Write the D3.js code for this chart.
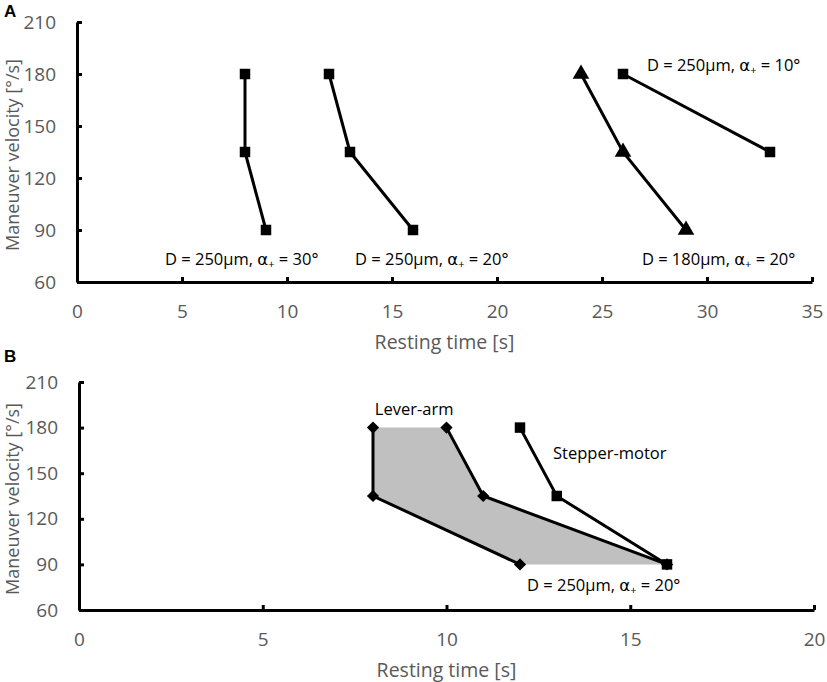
<!DOCTYPE html>
<html><head><meta charset="utf-8">
<script src="https://cdn.jsdelivr.net/npm/d3@7"></script>
<style>body{margin:0;background:#fff}svg{display:block}text{font-family:"Open Sans",sans-serif}</style>
</head><body><svg id="c" width="827" height="682"></svg>
<script>
// Panel A series (resting time [s], maneuver velocity [°/s])
const velA = [180, 135, 90];
const a30 = [8, 8, 9];
const a20 = [12, 13, 16];
const a180 = [24, 26, 29];
const a10 = [26, 33];
const velA10 = [180, 135];
const xTicksA = [0,5,10,15,20,25,30,35];
const yTicks = [60,90,120,150,180,210];
// Panel B series
const velB = [180, 135, 90];
const leverLeft = [8, 8, 12];
const leverRight = [10, 11, 16];
const stepper = [12, 13, 16];
const xTicksB = [0,5,10,15,20];

const svg = d3.select("#c");
const grey = "#595959";

function panel(cfg){
  const x = d3.scaleLinear().domain(cfg.xd).range(cfg.xr);
  const y = d3.scaleLinear().domain([60,210]).range(cfg.yr);
  const g = svg.append("g");
  const xa = g.append("g").attr("transform",`translate(0,${cfg.yr[0]})`)
    .call(d3.axisBottom(x).tickValues(cfg.xt).tickSizeInner(-5).tickSizeOuter(0).tickPadding(23).tickFormat(d3.format("d")));
  const ya = g.append("g").attr("transform",`translate(${cfg.xr[0]},0)`)
    .call(d3.axisLeft(y).tickValues(yTicks).tickSizeInner(-5).tickSizeOuter(0).tickPadding(21).tickFormat(d3.format("d")));
  [xa,ya].forEach(a=>{
    a.select(".domain").attr("stroke","#000").attr("stroke-width",3);
    a.selectAll(".tick line").attr("stroke","#000").attr("stroke-width",3);
    a.selectAll(".tick text").attr("fill",grey).style("font-size","19px").style("font-family","Open Sans");
  });
  g.append("text").attr("x",(cfg.xr[0]+cfg.xr[1])/2).attr("y",cfg.yr[0]+67)
    .attr("text-anchor","middle").attr("fill",grey).style("font-size","19.5px").text("Resting time [s]");
  g.append("text").attr("transform",`translate(19,${(cfg.yr[0]+cfg.yr[1])/2+3}) rotate(-90)`)
    .attr("text-anchor","middle").attr("fill",grey).style("font-size","18px").text("Maneuver velocity [°/s]");
  g.append("text").attr("x",4).attr("y",cfg.labY).style("font-size","17px").style("font-weight","bold")
    .style("font-family","Liberation Sans").text(cfg.letter);
  return {g,x,y};
}

function line(p, xs, ys){
  const pts = xs.map((v,i)=>[p.x(v), p.y(ys[i])]);
  p.g.append("path").attr("d", d3.line()(pts)).attr("fill","none").attr("stroke","#000").attr("stroke-width",3).attr("stroke-linejoin","miter");
}
function markers(p, xs, ys, type, size, rot){
  const sym = d3.symbol().type(type).size(size);
  p.g.selectAll(null).data(xs.map((v,i)=>[v,ys[i]])).enter().append("path")
    .attr("d", sym).attr("transform", d=>`translate(${p.x(d[0])},${p.y(d[1])}) rotate(${rot||0})`).attr("fill","#000");
}
function label(p, xv, yv, pre, post){
  const t = p.g.append("text").attr("x",p.x(xv)).attr("y",p.y(yv)).attr("dy","0.35em").style("font-size","16.5px").attr("fill","#000");
  t.append("tspan").text(pre);
  if (post !== undefined){
    t.append("tspan").text("α").style("font-family","DejaVu Sans");
    t.append("tspan").text("+").style("font-size","11px").attr("dy","3");
    t.append("tspan").text(post).attr("dy","-3");
  }
}

// Panel A
const A = panel({xd:[0,35], xr:[77,812], yr:[282,22], xt:xTicksA, letter:"A", labY:17});
const sq = d3.symbolSquare, tri = d3.symbolTriangle;
line(A, a30, velA); markers(A, a30, velA, sq, 110);
line(A, a20, velA); markers(A, a20, velA, sq, 110);
line(A, a180, velA); markers(A, a180, velA, tri, 120);
line(A, a10, velA10); markers(A, a10, velA10, sq, 110);
label(A, 4.19, 73.3, "D = 250µm, ", " = 30°");
label(A, 13.24, 73.3, "D = 250µm, ", " = 20°");
label(A, 26.9, 72.9, "D = 180µm, ", " = 20°");
label(A, 27.14, 185.2, "D = 250µm, ", " = 10°");

// Panel B
const B = panel({xd:[0,20], xr:[79,814], yr:[610,382], xt:xTicksB, letter:"B", labY:362});
const poly = leverLeft.map((v,i)=>[B.x(v),B.y(velB[i])]).concat(
  leverRight.map((v,i)=>[B.x(v),B.y(velB[i])]).reverse());
B.g.append("path").attr("d", d3.line()(poly)+"Z").attr("fill","#c0c0c0").attr("stroke","none");
line(B, leverLeft, velB); markers(B, leverLeft, velB, sq, 75, 45);
line(B, leverRight, velB); markers(B, leverRight, velB, sq, 75, 45);
line(B, stepper, velB); markers(B, stepper, velB, sq, 110);
label(B, 8.05, 192.2, "Lever-arm");
label(B, 12.9, 163.3, "Stepper-motor");
label(B, 12.19, 76.4, "D = 250µm, ", " = 20°");
</script></body></html>
